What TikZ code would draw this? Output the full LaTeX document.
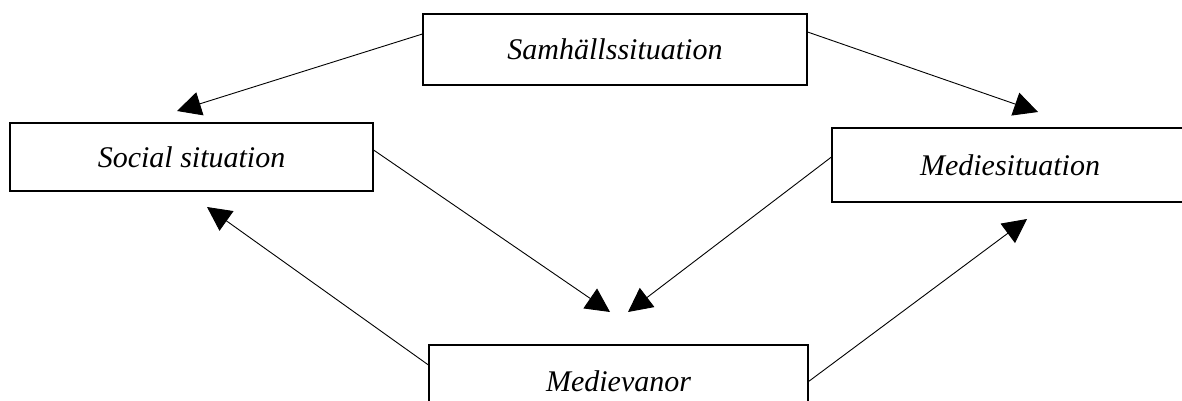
\documentclass[tikz,border=0pt]{standalone}
\usepackage{fontspec}
\setmainfont{Liberation Serif}
\usetikzlibrary{arrows.meta}
\def\pagebox{(0,0) rectangle (1182,401)}

\begin{document}
\begin{tikzpicture}[x=0.5pt,y=-0.5pt,
    box/.style={draw,line width=0.55pt,inner sep=0pt,font=\fontsize{15}{18}\selectfont\itshape},
    link/.style={line width=0.45pt,-{Triangle[length=12pt,width=12pt]}}]
    \useasboundingbox \pagebox;
    \node[box,minimum width=192pt,minimum height=35.5pt] (samh) at (615,49.5) {Samhällssituation};
    \node[box,minimum width=181.5pt,minimum height=34pt] (social) at (191.5,157) {Social situation};
    \node[box,minimum width=178pt,minimum height=37pt] (medsit) at (1010,165) {Mediesituation};
    \node[box,minimum width=189.5pt,minimum height=36.5pt] (vanor) at (618.5,381.5) {Medievanor};
    \coordinate (tipA) at (177,111);
    \coordinate (tipB) at (1038,112);
    \coordinate (tipC) at (610,312);
    \coordinate (tipD) at (628,312);
    \coordinate (tipE) at (207,207);
    \coordinate (tipF) at (1027,219);
    \draw[link] ([yshift=7.75pt]samh.west) -- (tipA);
    \draw[link] ([yshift=8.75pt]samh.east) -- (tipB);
    \draw[link] ([yshift=3.5pt]social.east) -- (tipC);
    \draw[link] ([yshift=4pt]medsit.west) -- (tipD);
    \draw[link] ([yshift=8.25pt]vanor.west) -- (tipE);
    \draw[link] (vanor.east) -- (tipF);
\end{tikzpicture}
\end{document}
